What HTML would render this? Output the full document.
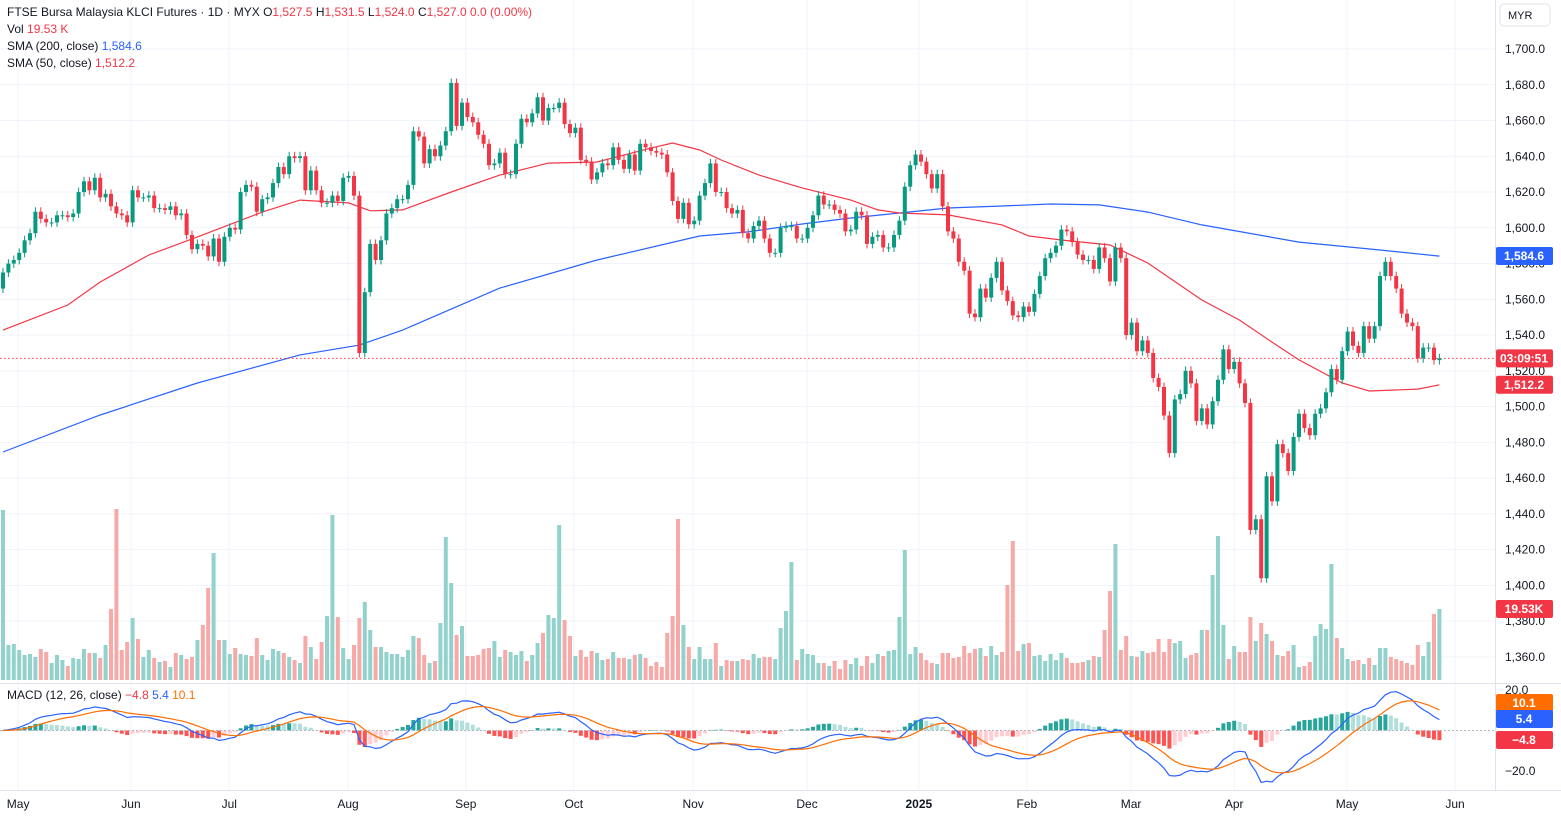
<!DOCTYPE html>
<html><head><meta charset="utf-8"><style>
html,body{margin:0;padding:0;background:#fff;}
body{width:1561px;height:819px;overflow:hidden;font-family:"Liberation Sans",sans-serif;}
svg text{font-family:"Liberation Sans",sans-serif;}
</style></head><body>
<svg id="chart" width="1561" height="819" viewBox="0 0 1561 819" xmlns="http://www.w3.org/2000/svg">
<g id="grid"></g>
<g id="vol"></g>
<g id="sma"></g>
<g id="candles"></g>
<g id="macd"></g>
<g id="axes"></g>
<g id="legend">
<text x="7" y="16" font-size="12" fill="#131722">FTSE Bursa Malaysia KLCI Futures · 1D · MYX <tspan fill="#131722">O</tspan><tspan fill="#f23645">1,527.5</tspan> <tspan fill="#131722">H</tspan><tspan fill="#f23645">1,531.5</tspan> <tspan fill="#131722">L</tspan><tspan fill="#f23645">1,524.0</tspan> <tspan fill="#131722">C</tspan><tspan fill="#f23645">1,527.0 0.0 (0.00%)</tspan></text>
<text x="7" y="33" font-size="12" fill="#131722">Vol <tspan fill="#f23645">19.53 K</tspan></text>
<text x="7" y="50" font-size="12" fill="#131722">SMA (200, close) <tspan fill="#2962ff">1,584.6</tspan></text>
<text x="7" y="67" font-size="12" fill="#131722">SMA (50, close) <tspan fill="#f23645">1,512.2</tspan></text>
<text x="7" y="699" font-size="12" fill="#131722">MACD (12, 26, close) <tspan fill="#f23645">−4.8</tspan> <tspan fill="#2962ff">5.4</tspan> <tspan fill="#ff6d00">10.1</tspan></text>
</g>
<g><rect x="1500" y="4" width="50" height="22" rx="4" fill="#fff" stroke="#e0e3eb"/><text x="1508" y="19" font-size="11" fill="#131722">MYR</text></g>
</svg>
<script>
const closes = [1575,1580,1582,1586,1593,1597,1609,1605,1603,1603,1607,1607,1606,1608,1620,1626,1621,1628,1617,1619,1612,1608,1607,1603,1621,1617,1617,1618,1611,1611,1610,1612,1607,1608,1596,1588,1591,1590,1584,1594,1581,1595,1600,1599,1620,1624,1623,1609,1616,1617,1625,1634,1630,1640,1639,1640,1621,1632,1621,1614,1614,1618,1615,1628,1629,1618,1530,1564,1591,1582,
1593,1608,1611,1616,1616,1624,1654,1651,1636,1644,1640,1646,1654,1681,1657,1670,1662,1659,1652,1647,1635,1636,1642,1630,1630,1647,1661,1659,1664,1673,1660,1667,1667,1670,1658,1653,1656,1638,1637,1627,1631,1636,1635,1645,1638,1633,1641,1632,1647,1645,1643,1642,1641,1631,1615,1605,1614,1602,1604,1618,1625,1636,1620,1620,1611,1608,1610,1597,1594,
1601,1604,1594,1586,1586,1600,1601,1601,1594,1594,1600,1607,1618,1613,1613,1610,1608,1598,1599,1609,1607,1591,1595,1596,1589,1589,1596,1604,1623,1635,1641,1637,1630,1622,1630,1612,1598,1594,1581,1576,1552,1550,1566,1561,1572,1581,1565,1559,1551,1550,1556,1553,1563,1573,1583,1586,1590,1599,1598,1592,1585,1582,1582,1577,1589,1583,1570,1589,
1583,1540,1547,1531,1537,1530,1516,1511,1495,1474,1504,1507,1520,1513,1492,1499,1490,1503,1515,1532,1521,1525,1513,1502,1431,1437,1404,1461,1447,1479,1474,1464,1483,1496,1488,1484,1496,1499,1508,1521,1515,1531,1542,1534,1530,1545,1538,1545,1573,1581,1573,1566,1552,1547,1545,1527,1533,1533,1526,1527];
const volumes = [170,35,36,30,25,26,23,31,28,17,25,20,14,22,21,31,27,27,22,35,71,171,30,38,62,41,23,30,22,18,19,13,27,25,21,23,40,55,92,127,40,40,26,32,26,25,24,42,25,20,31,29,27,23,20,17,44,33,21,38,64,165,63,32,21,35,62,78,50,33,33,28,26,26,23,30,44,42,25,17,19,57,143,97,45,54,24,24,25,31,32,39,23,30,28,25,29,19,25,37,47,65,62,155,60,44,24,30,23,29,27,20,21,28,22,22,21,25,26,22,14,18,13,47,64,161,55,33,21,33,21,21,37,14,20,19,19,
21,20,26,22,23,23,21,52,69,118,20,31,26,25,17,17,14,19,11,20,16,22,14,24,17,26,24,29,30,63,130,26,33,27,20,17,16,27,27,22,23,34,27,31,32,24,34,25,28,95,139,29,36,37,24,25,19,26,20,27,22,17,17,18,20,24,23,50,89,136,30,44,24,23,29,27,28,41,28,41,37,39,22,25,27,50,50,105,144,55,21,34,28,28,63,39,57,46,39,25,24,29,35,13,14,18,44,56,51,116,42,32,21,19,20,16,22,15,32,32,23,21,19,17,15,35,24,38,66,71];
const sma50Idx = [0,12,18,27,36,48,55,64,68,74,83,92,101,110,120,124,129,133,140,148,157,162,166,175,185,190,196,205,212,222,229,235,240,248,253,262,266];
const sma50Val = [1542.8,1556.8,1569.7,1584.8,1594.9,1608.8,1615.5,1613.9,1609.5,1610,1620,1629.5,1636.2,1636.8,1644.6,1647.4,1643.5,1637.9,1629.5,1622.3,1615.5,1610,1608.3,1607.2,1601.6,1595.4,1593.2,1590.4,1580.3,1559.6,1548.4,1536.1,1526.1,1513.2,1508.7,1509.8,1512.2];
const sma200Idx = [0,18,36,55,66,74,92,110,129,138,148,157,166,175,185,194,203,212,222,240,255,266];
const sma200Val = [1474.6,1495.3,1513.2,1528.9,1534.4,1542.8,1566.3,1582,1595.4,1597.7,1602.1,1605.5,1608.3,1611.1,1612.2,1613.3,1612.8,1608.8,1601.6,1592,1587.6,1584.2];
const monthLabels = ["May","Jun","Jul","Aug","Sep","Oct","Nov","Dec","2025","Feb","Mar","Apr","May","Jun"];
const monthIdx = [2.8,23.7,41.9,63.9,85.7,105.7,127.8,148.9,169.6,189.6,208.9,228,248.9,268.9];
const priceTicks = [1700,1680,1660,1640,1620,1600,1580,1560,1540,1520,1500,1480,1460,1440,1420,1400,1380,1360];

const NS="http://www.w3.org/2000/svg";
function mk(tag,attrs,parent){const e=document.createElementNS(NS,tag);for(const k in attrs)e.setAttribute(k,attrs[k]);parent.appendChild(e);return e;}
const X=i=>3+i*5.4;
const Y=p=>49+(1700-p)*1.788;
const VY=v=>680-v;
const MY=m=>730.5-m*2.025;
const gG=document.getElementById('grid'),gV=document.getElementById('vol'),gS=document.getElementById('sma'),gC=document.getElementById('candles'),gM=document.getElementById('macd'),gA=document.getElementById('axes');
const UP="#089981",DN="#f23645";
// grid
priceTicks.forEach(p=>{const l=mk('line',{x1:0,x2:1495,y1:Y(p),y2:Y(p),stroke:"#f0f3fa"},gG);


const t=mk('text',{x:1505,y:Y(p)+4,'font-size':12,fill:"#131722"},gA);t.textContent=p.toLocaleString('en-US')+".0";

});
monthIdx.forEach((m,k)=>{const l=mk('line',{x1:X(m),x2:X(m),y1:0,y2:790,stroke:"#f0f3fa"},gG);


const t=mk('text',{x:X(m),y:808,'font-size':12,fill:"#131722",'text-anchor':'middle','font-weight':monthLabels[k]==="2025"?"bold":"normal"},gA);t.textContent=monthLabels[k];

});
mk('line',{x1:0,x2:1561,y1:683.5,y2:683.5,stroke:"#e0e3eb"},gA);
mk('line',{x1:0,x2:1561,y1:790.5,y2:790.5,stroke:"#e0e3eb"},gA);
mk('line',{x1:1495.5,x2:1495.5,y1:0,y2:790,stroke:"#e0e3eb"},gA);
// opens
const opens=closes.map((c,i)=>i===0?1566:closes[i-1]);
// volume
volumes.forEach((v,i)=>{const up=closes[i]>=opens[i];const r=mk('rect',{x:X(i)-2,y:VY(v),width:4,height:v,fill:up?"#92d2cc":"#f7a9a7"},gV);

});
// SMA
function line(idx,val,color,name){const d=idx.map((ix,k)=>(k?'L':'M')+X(ix).toFixed(1)+' '+Y(val[k]).toFixed(1)).join(' ');const p=mk('path',{d:d,fill:'none',stroke:color,'stroke-width':1.2},gS);

}
line(sma200Idx,sma200Val,"#2962ff","sma200-line");
line(sma50Idx,sma50Val,"#f23645","sma50-line");
// last price line
const last=closes[closes.length-1];
mk('line',{x1:0,x2:1495,y1:Y(last),y2:Y(last),stroke:DN,'stroke-dasharray':'1.5 2.5'},gS);
// candles
closes.forEach((c,i)=>{const o=opens[i];const up=c>=o;const col=up?UP:DN;const hi=Math.max(o,c)+2.5,lo=Math.min(o,c)-2.5;
const g=mk('g',{},gC);


mk('line',{x1:X(i),x2:X(i),y1:Y(hi),y2:Y(lo),stroke:col,'stroke-width':1},g);
const top=Y(Math.max(o,c)),h=Math.max(1,Y(Math.min(o,c))-top);
mk('rect',{x:X(i)-2,y:top,width:4,height:h,fill:col},g);});
// MACD
function ema(arr,n){const k=2/(n+1);const out=[];arr.forEach((v,i)=>out.push(i?v*k+out[i-1]*(1-k):v));return out;}
const e12=ema(closes,12),e26=ema(closes,26);const macdL=e12.map((v,i)=>v-e26[i]);const sig=ema(macdL,9);
const hist=macdL.map((v,i)=>v-sig[i]);
hist.forEach((h,i)=>{const prev=i?hist[i-1]:0;let col;if(h>=0)col=h>=prev?"#26a69a":"#b2dfdb";else col=h<prev?"#ff5252":"#ffcdd2";
const y0=MY(0),y1=MY(h);const r=mk('rect',{x:X(i)-2,y:Math.min(y0,y1),width:4,height:Math.max(0.5,Math.abs(y1-y0)),fill:col},gM);

});
mk('line',{x1:0,x2:1495,y1:MY(0),y2:MY(0),stroke:"#b2b5be",'stroke-dasharray':'2 2'},gM);
const pm=mk('path',{d:macdL.map((v,i)=>(i?'L':'M')+X(i).toFixed(1)+' '+MY(v).toFixed(1)).join(' '),fill:'none',stroke:'#2962ff','stroke-width':1.2},gM);


const ps=mk('path',{d:sig.map((v,i)=>(i?'L':'M')+X(i).toFixed(1)+' '+MY(v).toFixed(1)).join(' '),fill:'none',stroke:'#ff6d00','stroke-width':1.2},gM);


[[20,"20.0"],[-20,"−20.0"]].forEach(a=>{const t=mk('text',{x:1505,y:MY(a[0])+4,'font-size':12,fill:'#131722'},gA);t.textContent=a[1];

});
// badges
function badge(y,txt,bg,name){const g=mk('g',{},gA);


mk('rect',{x:1496,y:y-9,width:57,height:18,rx:2,fill:bg},g);const t=mk('text',{x:1524,y:y+4,'font-size':12,fill:'#fff','text-anchor':'middle','font-weight':'bold'},g);t.textContent=txt;}
badge(Y(sma200Val[sma200Val.length-1]),"1,584.6","#2962ff","sma200-badge");
badge(Y(last),"03:09:51","#f23645","last-price-badge");
badge(Y(sma50Val[sma50Val.length-1]),"1,512.2","#f23645","sma50-badge");
badge(VY(volumes[volumes.length-1]),"19.53K","#f23645","volume-badge");
badge(703,"10.1","#ff6d00","signal-badge");
badge(719,"5.4","#2962ff","macd-badge");
badge(740,"−4.8","#f23645","histogram-badge");
</script>
</body></html>
